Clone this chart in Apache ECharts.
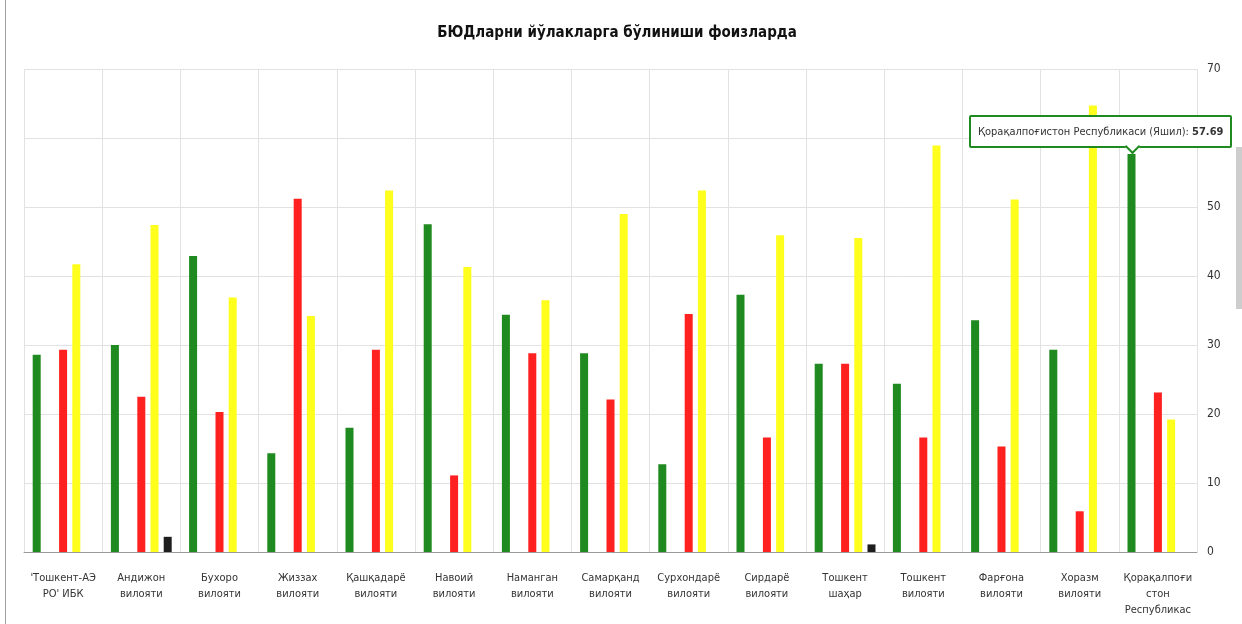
<!DOCTYPE html>
<html>
<head>
<meta charset="utf-8">
<script src="https://cdn.jsdelivr.net/npm/echarts@6/dist/echarts.min.js"></script>
<style>
  html, body { margin: 0; padding: 0; background: #fff; }
  #wrap { position: relative; width: 1242px; height: 624px; overflow: hidden; }
  #chart { width: 1242px; height: 624px; }
  .frame-left { position: absolute; left: 5px; top: 0; width: 1px; height: 624px; background: #a0a0a0; }
  .scroll-thumb { position: absolute; left: 1236px; top: 147px; width: 6px; height: 162px; background: #cdcdcd; }
  .tip-arrow {
    position: absolute; bottom: -6px; width: 9px; height: 9px;
    background: #fff; border-right: 2px solid #1f8a1f; border-bottom: 2px solid #1f8a1f;
    transform: rotate(45deg);
  }
</style>
</head>
<body>
<div id="wrap">
  <div id="chart"></div>
  <div class="frame-left"></div>
  <div class="scroll-thumb"></div>
</div>
<script>
const fontFamily = '"Liberation Sans Narrow", "DejaVu Sans Condensed", "Liberation Sans", sans-serif'

const categories = [
  "'Тошкент-АЭ РО' ИБК", 'Андижон вилояти', 'Бухоро вилояти', 'Жиззах вилояти',
  'Қашқадарё вилояти', 'Навоий вилояти', 'Наманган вилояти', 'Самарқанд вилояти',
  'Сурхондарё вилояти', 'Сирдарё вилояти', 'Тошкент шаҳар', 'Тошкент вилояти',
  'Фарғона вилояти', 'Хоразм вилояти', 'Қорақалпоғистон Республикаси'
]
const tickLabels = [
  "'Тошкент-АЭ\nРО' ИБК", 'Андижон\nвилояти', 'Бухоро\nвилояти', 'Жиззах\nвилояти',
  'Қашқадарё\nвилояти', 'Навоий\nвилояти', 'Наманган\nвилояти', 'Самарқанд\nвилояти',
  'Сурхондарё\nвилояти', 'Сирдарё\nвилояти', 'Тошкент\nшаҳар', 'Тошкент\nвилояти',
  'Фарғона\nвилояти', 'Хоразм\nвилояти', 'Қорақалпоғи\nстон\nРеспубликас'
]

const greenValues = [28.6, 30.0, 42.9, 14.3, 18.0, 47.5, 34.4, 28.8, 12.7, 37.3, 27.3, 24.4, 33.6, 29.3, 57.69]
const blueValues = [0, 0, 0, 0, 0, 0, 0, 0, 0, 0, 0, 0, 0, 0, 0]
const redValues = [29.3, 22.5, 20.3, 51.2, 29.3, 11.1, 28.8, 22.1, 34.5, 16.6, 27.3, 16.6, 15.3, 5.9, 23.1]
const yellowValues = [41.7, 47.4, 36.9, 34.2, 52.4, 41.3, 36.5, 49.0, 52.4, 45.9, 45.5, 58.9, 51.1, 64.7, 19.2]
const blackValues = [0, 2.2, 0, 0, 0, 0, 0, 0, 0, 0, 1.1, 0, 0, 0, 0]

const chart = echarts.init(document.getElementById('chart'))

const makeSeries = (name, data, color) => ({
  name,
  type: 'bar',
  data,
  barWidth: 8,
  barGap: '65%',
  itemStyle: { color }
})

chart.setOption({
  animation: false,
  title: {
    text: 'БЮДларни йўлакларга бўлиниши фоизларда',
    left: 612,
    top: 21,
    textAlign: 'center',
    textStyle: { fontSize: 15, fontWeight: 'bold', color: '#111', fontFamily }
  },
  tooltip: {
    trigger: 'item',
    triggerOn: 'none',
    alwaysShowContent: true,
    transitionDuration: 0,
    backgroundColor: '#fff',
    borderColor: '#1f8a1f',
    borderWidth: 2,
    borderRadius: 2,
    padding: [6, 7],
    textStyle: { fontSize: 11, color: '#333', fontFamily },
    extraCssText: 'box-shadow:none;',
    formatter: p => p.name + ' (' + p.seriesName + '): <b>' + p.value + '</b><div class="tip-arrow"></div>',
    position: (point, params, dom, rect, size) => {
      const w = size.contentSize[0]
      const h = size.contentSize[1]
      const cx = rect.x + rect.width / 2
      let left = Math.min(cx - w / 2, size.viewSize[0] - w - 10)
      const arrow = dom.querySelector('.tip-arrow')
      if (arrow) arrow.style.left = (cx - left - 7) + 'px'
      return [left, rect.y - h - 6]
    }
  },
  grid: { left: 24, right: 45, top: 69, bottom: 72 },
  xAxis: {
    type: 'category',
    data: categories,
    axisLine: { lineStyle: { color: '#9a9a9a', width: 1 } },
    axisTick: { alignWithLabel: true, length: 4, lineStyle: { color: '#9a9a9a' } },
    axisLabel: {
      interval: 0,
      margin: 18,
      fontSize: 11,
      lineHeight: 16,
      color: '#333',
      fontFamily,
      formatter: (v, i) => tickLabels[i]
    },
    splitLine: { show: true, lineStyle: { color: '#e2e2e2' } }
  },
  yAxis: {
    type: 'value',
    position: 'right',
    min: 0,
    max: 70,
    interval: 10,
    axisLine: { show: false },
    axisTick: { show: false },
    axisLabel: { margin: 10, fontSize: 12, color: '#333', fontFamily },
    splitLine: { lineStyle: { color: '#e2e2e2' } }
  },
  series: [
    makeSeries('Яшил', greenValues, '#1f8a1f'),
    makeSeries('Кўк', blueValues, '#3a6fd8'),
    makeSeries('Қизил', redValues, '#ff2020'),
    makeSeries('Сариқ', yellowValues, '#ffff1e'),
    makeSeries('Қора', blackValues, '#1e1e1e')
  ]
})

chart.dispatchAction({ type: 'showTip', seriesIndex: 0, dataIndex: 14 })
</script>
</body>
</html>
